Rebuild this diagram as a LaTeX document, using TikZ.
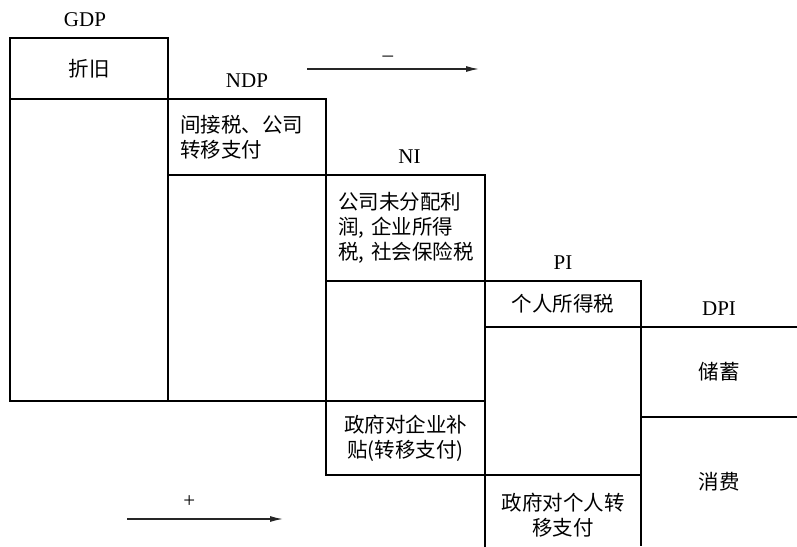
\documentclass[tikz,border=0pt]{standalone}
\usepackage{fontspec}
\setmainfont{Liberation Serif}
\newfontfamily\cjk{Noto Sans CJK SC}
\usepackage{tikz}
\usetikzlibrary{positioning, arrows.meta}

\begin{document}
\begin{tikzpicture}[x=1pt, y=-1pt, font=\fontsize{21}{25}\selectfont]
		\tikzstyle{cell} = [rectangle, draw=black, line width=1.1pt, outer sep=0pt, inner sep=0pt, anchor=north west, align=center, font=\cjk\fontsize{20.5}{25}\selectfont]
		
		\tikzstyle{opencell} = [cell, draw=none]
		
		\tikzstyle{lefttext} = [align=left, inner xsep=12pt]
		
		\tikzstyle{tag} = [inner sep=2pt]
		
		\tikzstyle{wall} = [line width=1.1pt]
		\tikzstyle{arrow} = [->, >={Latex[length=13pt, width=6pt]}, line width=1.3pt, black!85]
		%-------------------------------------------------------
		% page size of the figure
		\useasboundingbox (0,0) rectangle (797,546);
		\clip (0,0) rectangle (797,546);
		
		% GDP column
		\node (gdp1) [cell, minimum width=158, minimum height=61] at (10,38) {折旧};
		\node (gdp2) [cell, minimum width=158, minimum height=302] at (gdp1.south west) {};
		
		% NDP column
		\node (ndp1) [cell, lefttext, text width=134pt, minimum height=76] at (gdp1.south east) {间接税、公司\\转移支付};
		\node (ndp2) [cell, minimum width=158, minimum height=226] at (ndp1.south west) {};
		
		% NI column
		\node (ni1) [cell, lefttext, text width=135pt, minimum height=106] at (ndp1.south east) {公司未分配利\\润,~企业所得\\税,~社会保险税};
		\node (ni2) [cell, minimum width=159, minimum height=120] at (ni1.south west) {};
		\node (ni3) [cell, minimum width=159, minimum height=74] at (ni2.south west) {政府对企业补\\贴(转移支付)};
		
		% PI column
		\node (pi1) [cell, minimum width=156, minimum height=46] at (ni1.south east) {个人所得税};
		\node (pi2) [cell, minimum width=156, minimum height=148] at (pi1.south west) {};
		\node (pi3) [opencell, minimum width=156, minimum height=80] at (pi2.south west) {政府对个人转\\移支付};
		
		% DPI column
		\node (dpi1) [opencell, minimum width=156, minimum height=90] at (pi1.south east) {储蓄};
		\node (dpi2) [opencell, minimum width=156, minimum height=129] at (dpi1.south west) {消费};
		
		\draw [wall] (pi3.south west) -- (pi3.north west) -- (pi3.north east);
		\draw [wall] (dpi1.north east) -- (dpi1.north west) -- (dpi2.south west);
		\draw [wall] (dpi1.south west) -- (dpi1.south east);
		
		% column titles
		\node (lgdp) [tag, above=9pt of gdp1, xshift=-4pt] {GDP};
		\node (lndp) [tag, above=9pt of ndp1] {NDP};
		\node (lni) [tag, above=9pt of ni1, xshift=4pt] {NI};
		\node (lpi) [tag, above=9pt of pi1] {PI};
		\node (ldpi) [tag, above=9pt of dpi1] {DPI};
		
		% minus / plus arrows
		\coordinate (m1) at (307,69);
		\coordinate (m2) at (479,69);
		\coordinate (p1) at (127,519);
		\coordinate (p2) at (283,519);
		
		\draw [arrow] (m1) -- node[tag, pos=0.47, above=5pt, black]{--} (m2);
		\draw [arrow] (p1) -- node[tag, pos=0.4, above=9pt, black]{+} (p2);
		\end{tikzpicture}
\end{document}
